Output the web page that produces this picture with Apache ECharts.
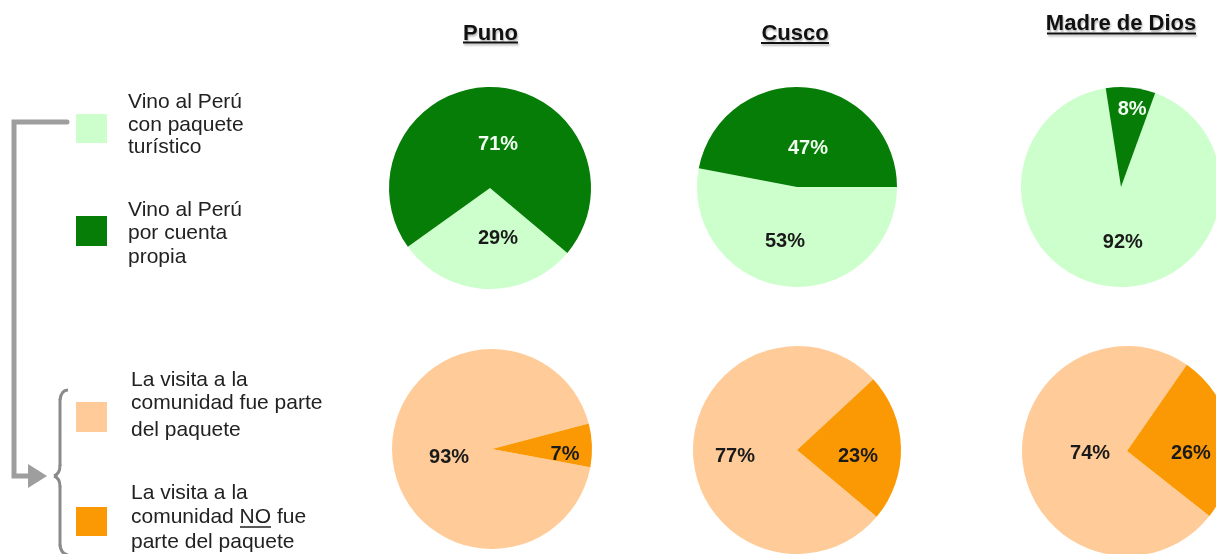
<!DOCTYPE html>
<html>
<head>
<meta charset="utf-8">
<script src="https://cdn.jsdelivr.net/npm/echarts@6/dist/echarts.min.js"></script>
<style>
html,body{margin:0;padding:0;background:#fff;}
#c{width:1216px;height:554px;}
</style>
</head>
<body>
<div id="c"></div>
<script>
// ---- data ----
const regions = ['Puno', 'Cusco', 'Madre de Dios'];
const tripLegend = ['Vino al Perú con paquete turístico', 'Vino al Perú por cuenta propia'];
const visitLegend = ['La visita a la comunidad fue parte del paquete', 'La visita a la comunidad NO fue parte del paquete'];
const conPaquete = [29, 53, 92];
const cuentaPropia = [71, 47, 8];
const visitaParte = [93, 77, 74];
const visitaNoParte = [7, 23, 26];

// ---- styling / layout ----
const C = {
  darkGreen: '#067d06', lightGreen: '#ccffcc',
  lightOrange: '#ffcc99', darkOrange: '#fb9905',
  text: '#222', gray: '#9e9e9e'
};
const FONT = '"Liberation Sans", Arial, sans-serif';
const topCenters = [[490, 188], [797, 187], [1121, 187]];
const topRadius = [101, 100, 100];
const topStart = [320, 0, 70];
const botCenters = [[492, 449], [797, 450], [1127, 451]];
const botRadius = [100, 104, 105];
const botStart = [349.5, 320, 321.7];
// label nudges [light slice, dark slice]
const topNudge = [[[10, -3], [6, 10]], [[-7, 2], [6, 14]], [[7, 3], [6, -25]]];
const botNudge = [[[10, 7], [20, 7]], [[-7, 5], [6, 8]], [[18, -6], [9, 11]]];

function pieSeries(center, r, start, vals, names, colors, labelColors, nudge) {
  return {
    type: 'pie', center: center, radius: r, startAngle: start, clockwise: true,
    avoidLabelOverlap: false, silent: true, animation: false,
    label: { show: true, position: 'inside', formatter: '{c}%', fontFamily: FONT, fontWeight: 'bold', fontSize: 20 },
    labelLine: { show: false },
    labelLayout: function (p) { const n = nudge[p.dataIndex]; return { dx: n[0], dy: n[1] }; },
    emphasis: { disabled: true },
    itemStyle: { borderWidth: 0 },
    data: vals.map((v, i) => ({ value: v, name: names[i], itemStyle: { color: colors[i] }, label: { color: labelColors[i] } }))
  };
}

const series = [];
regions.forEach((reg, i) => {
  series.push(pieSeries(topCenters[i], topRadius[i], topStart[i], [conPaquete[i], cuentaPropia[i]],
    tripLegend, [C.lightGreen, C.darkGreen], ['#1a1a1a', '#f2fff2'], topNudge[i]));
  series.push(pieSeries(botCenters[i], botRadius[i], botStart[i], [visitaParte[i], visitaNoParte[i]],
    visitLegend, [C.lightOrange, C.darkOrange], ['#1a1a1a', '#1a1a1a'], botNudge[i]));
});

const graphics = [];
// titles: [centerX, centerY, underline x1, x2, y]
const titlePos = [[490.5, 33.5, 463, 518, 42.5], [795, 34, 761, 829, 43], [1121, 24, 1047, 1196, 33.5]];
regions.forEach((reg, i) => {
  const t = titlePos[i];
  graphics.push({ type: 'text', x: t[0], y: t[1], silent: true, style: {
    text: reg, font: 'bold 22px ' + FONT, fill: '#111', align: 'center', verticalAlign: 'middle',
    textShadowColor: 'rgba(0,0,0,0.28)', textShadowBlur: 2, textShadowOffsetX: 1, textShadowOffsetY: 2 } });
  graphics.push({ type: 'line', silent: true, shape: { x1: t[2], y1: t[4], x2: t[3], y2: t[4] },
    style: { stroke: '#111', lineWidth: 2, shadowColor: 'rgba(0,0,0,0.25)', shadowBlur: 2, shadowOffsetX: 1, shadowOffsetY: 2 } });
});

// legend swatches
const swatches = [[76, 114, 31, 29, C.lightGreen], [76, 216, 31, 30, C.darkGreen], [76, 402, 31, 30, C.lightOrange], [76, 507, 31, 29, C.darkOrange]];
swatches.forEach(s => graphics.push({ type: 'rect', silent: true, shape: { x: s[0], y: s[1], width: s[2], height: s[3] }, style: { fill: s[4] } }));

// legend text lines
const legendLines = [
  [128, 102, 'Vino al Perú'], [128, 125, 'con paquete'], [128, 147, 'turístico'],
  [128, 210, 'Vino al Perú'], [128, 233, 'por cuenta'], [128, 257, 'propia'],
  [131, 380, 'La visita a la'], [131, 403, 'comunidad fue parte'], [131, 430, 'del paquete'],
  [131, 493, 'La visita a la'], [131, 517, 'comunidad NO fue'], [131, 542, 'parte del paquete']
];
legendLines.forEach(l => graphics.push({ type: 'text', x: l[0], y: l[1], silent: true, style: {
  text: l[2], font: '21px ' + FONT, fill: C.text, align: 'left', verticalAlign: 'middle' } }));
// underline "NO"
graphics.push({ type: 'line', silent: true, shape: { x1: 240, y1: 527, x2: 271, y2: 527 }, style: { stroke: C.text, lineWidth: 1.5 } });

// connector arrow
graphics.push({ type: 'polyline', silent: true, shape: { points: [[67, 122], [14, 122], [14, 476], [32, 476]] },
  style: { stroke: C.gray, lineWidth: 5, fill: null, lineJoin: 'miter', lineCap: 'round' } });
graphics.push({ type: 'polygon', silent: true, shape: { points: [[28, 464], [28, 488], [47, 476]] }, style: { fill: C.gray } });

// curly brace
const braceStyle = { stroke: '#8a8a8a', lineWidth: 3, fill: null };
graphics.push({ type: 'bezierCurve', silent: true, shape: { x1: 68, y1: 390, cpx1: 61, cpy1: 390, x2: 60, y2: 400 }, style: braceStyle });
graphics.push({ type: 'line', silent: true, shape: { x1: 60, y1: 399, x2: 60, y2: 466 }, style: braceStyle });
graphics.push({ type: 'bezierCurve', silent: true, shape: { x1: 60, y1: 465, cpx1: 60, cpy1: 474, x2: 54, y2: 476 }, style: braceStyle });
graphics.push({ type: 'bezierCurve', silent: true, shape: { x1: 54, y1: 476, cpx1: 60, cpy1: 478, x2: 60, y2: 487 }, style: braceStyle });
graphics.push({ type: 'line', silent: true, shape: { x1: 60, y1: 486, x2: 60, y2: 546 }, style: braceStyle });
graphics.push({ type: 'bezierCurve', silent: true, shape: { x1: 60, y1: 545, cpx1: 61, cpy1: 554, x2: 68, y2: 555 }, style: braceStyle });

const chart = echarts.init(document.getElementById('c'), null, { renderer: 'canvas' });
chart.setOption({
  backgroundColor: '#fff',
  animation: false,
  series: series,
  graphic: { elements: graphics }
});
</script>
</body>
</html>
